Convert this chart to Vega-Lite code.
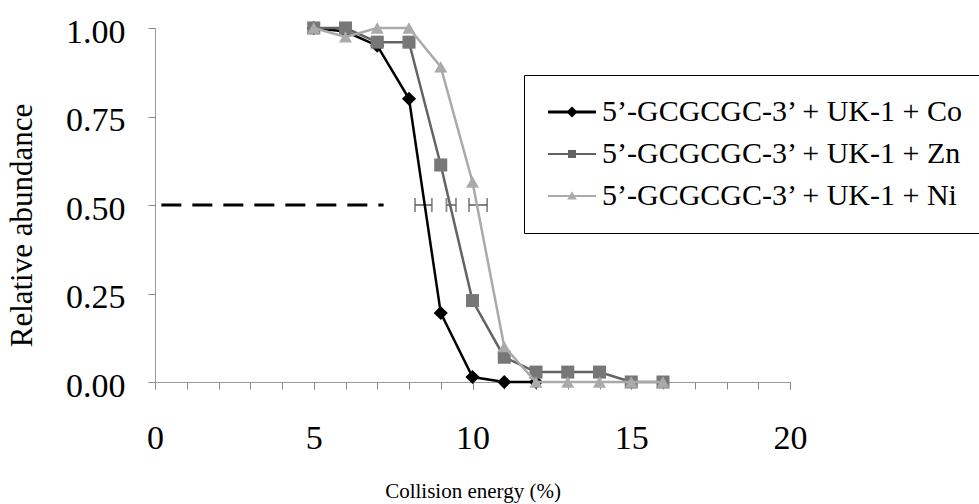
{
  "$schema": "https://vega.github.io/schema/vega-lite/v6.json",
  "autosize": "none",
  "width": 635,
  "height": 354,
  "padding": {"left": 155, "top": 28, "right": 189, "bottom": 122},
  "background": "white",
  "config": {
    "view": {"stroke": null},
    "font": "Liberation Serif",
    "axis": {"grid": false, "labelFont": "Liberation Serif", "titleFont": "Liberation Serif", "labelColor": "black", "titleColor": "black", "titleFontWeight": "normal"}
  },
  "datasets": {
    "main": [
      {"series": "5’-GCGCGC-3’ + UK-1 + Co", "x": 5, "y": 1.0},
      {"series": "5’-GCGCGC-3’ + UK-1 + Co", "x": 6, "y": 0.99},
      {"series": "5’-GCGCGC-3’ + UK-1 + Co", "x": 7, "y": 0.95},
      {"series": "5’-GCGCGC-3’ + UK-1 + Co", "x": 8, "y": 0.80},
      {"series": "5’-GCGCGC-3’ + UK-1 + Co", "x": 9, "y": 0.195},
      {"series": "5’-GCGCGC-3’ + UK-1 + Co", "x": 10, "y": 0.014},
      {"series": "5’-GCGCGC-3’ + UK-1 + Co", "x": 11, "y": 0.0},
      {"series": "5’-GCGCGC-3’ + UK-1 + Co", "x": 12, "y": 0.0},
      {"series": "5’-GCGCGC-3’ + UK-1 + Zn", "x": 5, "y": 1.0},
      {"series": "5’-GCGCGC-3’ + UK-1 + Zn", "x": 6, "y": 1.0},
      {"series": "5’-GCGCGC-3’ + UK-1 + Zn", "x": 7, "y": 0.96},
      {"series": "5’-GCGCGC-3’ + UK-1 + Zn", "x": 8, "y": 0.96},
      {"series": "5’-GCGCGC-3’ + UK-1 + Zn", "x": 9, "y": 0.613},
      {"series": "5’-GCGCGC-3’ + UK-1 + Zn", "x": 10, "y": 0.23},
      {"series": "5’-GCGCGC-3’ + UK-1 + Zn", "x": 11, "y": 0.07},
      {"series": "5’-GCGCGC-3’ + UK-1 + Zn", "x": 12, "y": 0.028},
      {"series": "5’-GCGCGC-3’ + UK-1 + Zn", "x": 13, "y": 0.028},
      {"series": "5’-GCGCGC-3’ + UK-1 + Zn", "x": 14, "y": 0.028},
      {"series": "5’-GCGCGC-3’ + UK-1 + Zn", "x": 15, "y": 0.0},
      {"series": "5’-GCGCGC-3’ + UK-1 + Zn", "x": 16, "y": 0.0},
      {"series": "5’-GCGCGC-3’ + UK-1 + Ni", "x": 5, "y": 1.0},
      {"series": "5’-GCGCGC-3’ + UK-1 + Ni", "x": 6, "y": 0.975},
      {"series": "5’-GCGCGC-3’ + UK-1 + Ni", "x": 7, "y": 1.0},
      {"series": "5’-GCGCGC-3’ + UK-1 + Ni", "x": 8, "y": 1.0},
      {"series": "5’-GCGCGC-3’ + UK-1 + Ni", "x": 9, "y": 0.89},
      {"series": "5’-GCGCGC-3’ + UK-1 + Ni", "x": 10, "y": 0.565},
      {"series": "5’-GCGCGC-3’ + UK-1 + Ni", "x": 11, "y": 0.10},
      {"series": "5’-GCGCGC-3’ + UK-1 + Ni", "x": 12, "y": 0.0},
      {"series": "5’-GCGCGC-3’ + UK-1 + Ni", "x": 13, "y": 0.0},
      {"series": "5’-GCGCGC-3’ + UK-1 + Ni", "x": 14, "y": 0.0},
      {"series": "5’-GCGCGC-3’ + UK-1 + Ni", "x": 15, "y": 0.0},
      {"series": "5’-GCGCGC-3’ + UK-1 + Ni", "x": 16, "y": 0.0}
    ],
    "ref": [
      {"x": 0.2, "y": 0.5},
      {"x": 7.2, "y": 0.5}
    ],
    "err": [
      {"lo": 8.19, "hi": 8.72, "y": 0.5},
      {"lo": 9.18, "hi": 9.48, "y": 0.5},
      {"lo": 9.89, "hi": 10.46, "y": 0.5}
    ]
  },
  "resolve": {"axis": {"x": "independent"}},
  "layer": [
    {
      "data": {"name": "ref"},
      "mark": {"type": "line", "color": "black", "strokeWidth": 3, "strokeDash": [20, 11]},
      "encoding": {
        "x": {"field": "x", "type": "quantitative", "scale": {"domain": [0, 20], "nice": false},
          "axis": {"orient": "bottom", "values": [0,1,2,3,4,5,6,7,8,9,10,11,12,13,14,15,16,17,18,19,20], "labels": false, "tickSize": 7, "tickColor": "#888", "domainColor": "#999", "title": null}},
        "y": {"field": "y", "type": "quantitative", "scale": {"domain": [0, 1], "nice": false},
          "axis": {"values": [0, 0.25, 0.5, 0.75, 1], "format": ".2f", "domainColor": "#999", "tickColor": "#888", "tickSize": 7, "labelFontSize": 34, "labelPadding": 23, "labelOffset": 4, "title": "Relative abundance", "titleFontSize": 31, "titlePadding": 27, "titleY": 197}}
      }
    },
    {
      "data": {"name": "err"},
      "mark": {"type": "rule", "color": "#5a5a5a", "strokeWidth": 1.5},
      "encoding": {
        "x": {"field": "lo", "type": "quantitative", "axis": null},
        "x2": {"field": "hi"},
        "y": {"field": "y", "type": "quantitative"}
      }
    },
    {
      "data": {"name": "err"},
      "mark": {"type": "tick", "orient": "vertical", "color": "#5a5a5a", "size": 14, "thickness": 1.8},
      "encoding": {
        "x": {"field": "lo", "type": "quantitative", "axis": null},
        "y": {"field": "y", "type": "quantitative"}
      }
    },
    {
      "data": {"name": "err"},
      "mark": {"type": "tick", "orient": "vertical", "color": "#5a5a5a", "size": 14, "thickness": 1.8},
      "encoding": {
        "x": {"field": "hi", "type": "quantitative", "axis": null},
        "y": {"field": "y", "type": "quantitative"}
      }
    },
    {
      "data": {"name": "main"},
      "transform": [{"filter": "indexof(datum.series, 'Co') >= 0"}],
      "mark": {"type": "line", "color": "black", "strokeWidth": 2.5, "point": {"shape": "diamond", "size": 200, "filled": true, "color": "black"}},
      "encoding": {
        "x": {"field": "x", "type": "quantitative",
          "axis": {"orient": "bottom", "values": [0, 5, 10, 15, 20], "labelOverlap": false, "labelFontSize": 34, "labelPadding": 32, "tickSize": 7, "tickColor": "#888", "domain": false, "title": "Collision energy (%)", "titleFontSize": 21, "titlePadding": 25, "labelFlush": false}},
        "y": {"field": "y", "type": "quantitative"}
      }
    },
    {
      "data": {"name": "main"},
      "transform": [{"filter": "indexof(datum.series, 'Zn') >= 0"}],
      "mark": {"type": "line", "color": "#636363", "strokeWidth": 2.5, "point": {"shape": "square", "size": 170, "filled": true, "color": "#777777"}},
      "encoding": {
        "x": {"field": "x", "type": "quantitative", "axis": null},
        "y": {"field": "y", "type": "quantitative"}
      }
    },
    {
      "data": {"name": "main"},
      "transform": [{"filter": "indexof(datum.series, 'Ni') >= 0"}],
      "mark": {"type": "line", "color": "#aaaaaa", "strokeWidth": 2.5, "point": {"shape": "triangle-up", "size": 170, "filled": true, "color": "#aaaaaa"}},
      "encoding": {
        "x": {"field": "x", "type": "quantitative", "axis": null},
        "y": {"field": "y", "type": "quantitative"}
      }
    },
    {
      "data": {"name": "main"},
      "transform": [{"filter": "datum.x < 0"}],
      "mark": {"type": "point", "filled": true, "opacity": 1},
      "encoding": {
        "x": {"field": "x", "type": "quantitative", "axis": null},
        "y": {"field": "y", "type": "quantitative"},
        "color": {"field": "series", "type": "nominal",
          "scale": {"domain": ["5’-GCGCGC-3’ + UK-1 + Co", "5’-GCGCGC-3’ + UK-1 + Zn", "5’-GCGCGC-3’ + UK-1 + Ni"], "range": ["#000000", "#636363", "#aaaaaa"]},
          "legend": {"title": null, "orient": "none", "legendX": 369, "legendY": 47, "padding": 22, "rowPadding": 12, "symbolOffset": 11, "labelOffset": 15, "labelFont": "Liberation Serif", "labelFontSize": 30, "labelColor": "black", "labelLimit": 800, "symbolSize": 256, "symbolStrokeWidth": 0, "strokeColor": "black", "fillColor": "white"}},
        "shape": {"field": "series", "type": "nominal",
          "scale": {"domain": ["5’-GCGCGC-3’ + UK-1 + Co", "5’-GCGCGC-3’ + UK-1 + Zn", "5’-GCGCGC-3’ + UK-1 + Ni"],
            "range": ["M-3,-0.19H3V0.19H-3ZM0,-0.7L0.7,0L0,0.7L-0.7,0Z", "M-3,-0.14H3V0.14H-3ZM-0.5,-0.5H0.5V0.5H-0.5Z", "M-3,-0.12H3V0.12H-3ZM0,-0.6L0.6,0.45H-0.6Z"]},
          "legend": {"title": null, "orient": "none", "legendX": 369, "legendY": 47, "padding": 22, "rowPadding": 12, "symbolOffset": 11, "labelOffset": 15, "labelFont": "Liberation Serif", "labelFontSize": 30, "labelColor": "black", "labelLimit": 800, "symbolSize": 256, "symbolStrokeWidth": 0, "strokeColor": "black", "fillColor": "white"}}
      }
    }
  ]
}
